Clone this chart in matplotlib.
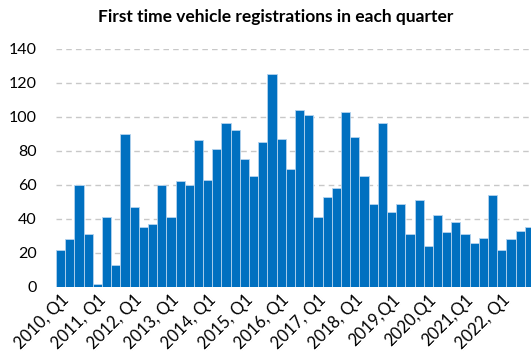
import numpy as np
import matplotlib
matplotlib.use('Agg')
import matplotlib.pyplot as plt

plt.rcParams['font.family'] = ['Lato', 'DejaVu Sans']

# quarterly counts, 2010 Q1 .. 2022 Q4
years = list(range(2010, 2023))
quarters = [f'{y}, Q{q}' for y in years for q in range(1, 5)]
registrations = [22, 28, 60, 31, 2, 41, 13, 90,
                 47, 35, 37, 60, 41, 62, 60, 86,
                 63, 81, 96, 92, 75, 65, 85, 125,
                 87, 69, 104, 101, 41, 53, 58, 103,
                 88, 65, 49, 96, 44, 49, 31, 51,
                 24, 42, 32, 38, 31, 26, 29, 54,
                 22, 28, 33, 35]
tick_labels = ['2010, Q1', '2011, Q1', '2012, Q1', '2013, Q1', '2014, Q1',
               '2015, Q1', '2016, Q1', '2017, Q1', '2018, Q1', '2019,Q1',
               '2020,Q1', '2021,Q1', '2022, Q1']
y_ticks = [0, 20, 40, 60, 80, 100, 120, 140]

fig = plt.figure(figsize=(5.31, 3.62), dpi=100)
ax = fig.add_axes([56/531, 75/362, 478/531, 238.5/362])

x = np.arange(len(registrations))
ax.bar(x, registrations, width=1.0, color='#0070C0', edgecolor='#b4d3ee',
       linewidth=0.6, zorder=3)

ax.set_xlim(-0.5, len(registrations) - 0.5)
ax.set_ylim(0, 140)
ax.set_yticks(y_ticks)
ax.yaxis.grid(True, color='#c8c8c8', linestyle=(0, (4, 3)), linewidth=1, zorder=0)
ax.tick_params(axis='y', length=0, labelsize=11.5, pad=14)
ax.tick_params(axis='x', length=0, labelsize=12, pad=3)

ax.set_xticks(x[::4])
ax.set_xticklabels(tick_labels, rotation=45, ha='right', rotation_mode='anchor')

for s in ax.spines.values():
    s.set_visible(False)

fig.text(0.52, 0.952, 'First time vehicle registrations in each quarter',
         ha='center', va='center', fontsize=12.5, fontweight='bold')

fig.savefig('out.png', dpi=100)
